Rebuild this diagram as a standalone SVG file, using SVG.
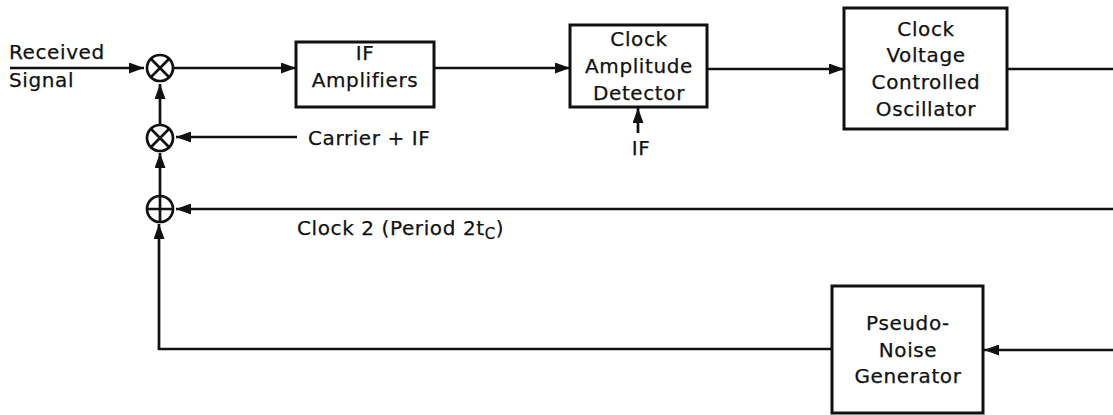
<svg xmlns="http://www.w3.org/2000/svg" width="1113" height="415" viewBox="0 0 1113 415">
<style>
.box{fill:#fff;stroke:#111;stroke-width:3}
.ln{fill:none;stroke:#111;stroke-width:2.7}
.sj{fill:#fff;stroke:#111;stroke-width:2.7}
text{font-family:"DejaVu Sans","Liberation Sans",sans-serif;font-size:20px;fill:#111;letter-spacing:0.6px;stroke:#111;stroke-width:0.25}
.c{text-anchor:middle}
</style>
<defs>
<marker id="ah" viewBox="0 0 15 11" refX="15" refY="5.5" markerWidth="15" markerHeight="11" markerUnits="userSpaceOnUse" orient="auto">
<path d="M0,0 L15,5.5 L0,11 Z" fill="#111"/>
</marker>
</defs>
<rect width="1113" height="415" fill="#fff"/>
<g id="connectors">
<path class="ln" d="M10,68 H144" marker-end="url(#ah)"/>
<path class="ln" d="M173,68 H296" marker-end="url(#ah)"/>
<path class="ln" d="M434,68 H570" marker-end="url(#ah)"/>
<path class="ln" d="M707,69 H844" marker-end="url(#ah)"/>
<path class="ln" d="M1007,69 H1113"/>
<path class="ln" d="M638,133 V108" marker-end="url(#ah)"/>
<path class="ln" d="M297,137 H176" marker-end="url(#ah)"/>
<path class="ln" d="M1113,209 H176" marker-end="url(#ah)"/>
<path class="ln" d="M1113,350 H984" marker-end="url(#ah)"/>
<path class="ln" d="M832,349 H159 V224" marker-end="url(#ah)"/>
<path class="ln" d="M160,195 V153" marker-end="url(#ah)"/>
<path class="ln" d="M160,124 V84" marker-end="url(#ah)"/>
</g>
<g id="mixer1">
<circle class="sj" cx="160" cy="68" r="13"/>
<path class="ln" d="M150.8,58.8 L169.2,77.2 M169.2,58.8 L150.8,77.2"/>
</g>
<g id="mixer2">
<circle class="sj" cx="160" cy="138" r="13"/>
<path class="ln" d="M150.8,128.8 L169.2,147.2 M169.2,128.8 L150.8,147.2"/>
</g>
<g id="adder">
<circle class="sj" cx="160" cy="209" r="13"/>
<path class="ln" d="M147,209 H173 M160,196 V222"/>
</g>
<g id="input-label">
<text x="9" y="59">Received</text>
<text x="9" y="87">Signal</text>
</g>
<g id="if-amplifiers">
<rect class="box" x="296" y="42" width="138" height="65"/>
<text class="c" x="365" y="60">IF</text>
<text class="c" x="365" y="87">Amplifiers</text>
</g>
<g id="clock-amplitude-detector">
<rect class="box" x="570" y="25" width="137" height="82"/>
<text class="c" x="639" y="46">Clock</text>
<text class="c" x="639" y="73">Amplitude</text>
<text class="c" x="639" y="100">Detector</text>
</g>
<g id="if-label">
<text class="c" x="641" y="155">IF</text>
</g>
<g id="clock-vco">
<rect class="box" x="844" y="8" width="163" height="121"/>
<text class="c" x="926" y="36">Clock</text>
<text class="c" x="926" y="62">Voltage</text>
<text class="c" x="926" y="89">Controlled</text>
<text class="c" x="926" y="116">Oscillator</text>
</g>
<g id="carrier-label">
<text x="308" y="145">Carrier + IF</text>
</g>
<g id="clock2-label">
<text x="297" y="235">Clock 2 (Period 2t<tspan font-size="15" dy="4">C</tspan><tspan dy="-4">)</tspan></text>
</g>
<g id="pn-generator">
<rect class="box" x="832" y="286" width="151" height="127"/>
<text class="c" x="908" y="330">Pseudo-</text>
<text class="c" x="908" y="357">Noise</text>
<text class="c" x="908" y="383">Generator</text>
</g>
</svg>
